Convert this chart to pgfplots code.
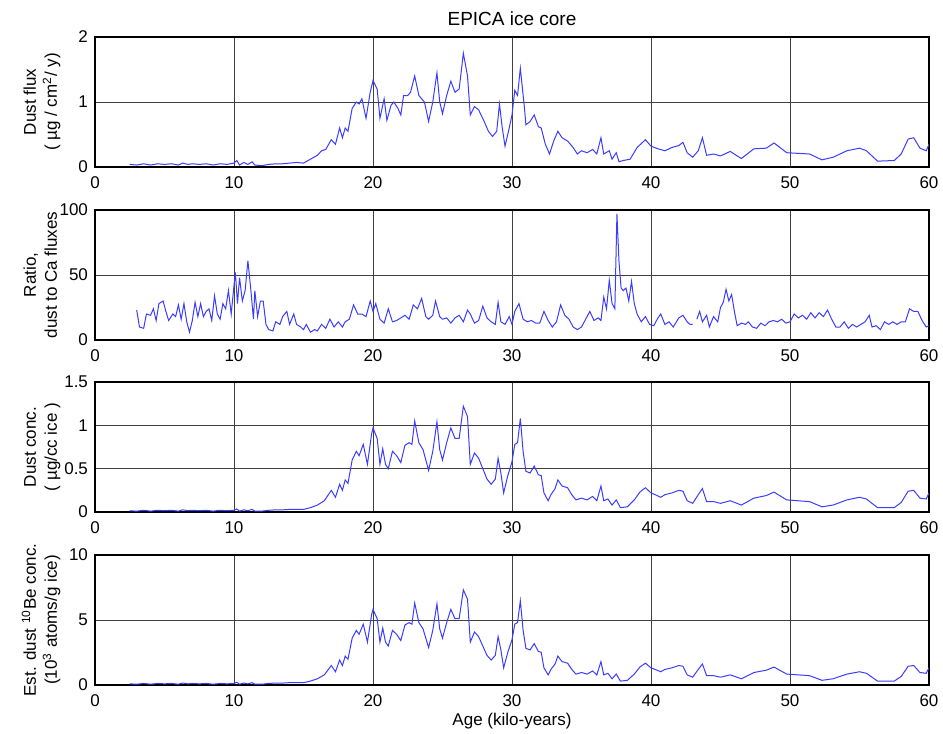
\documentclass[border=0pt]{standalone}
\usepackage{fontspec}
\setmainfont{Liberation Sans}
\usepackage{pgfplots}
\pgfplotsset{compat=1.18}

\definecolor{trace}{RGB}{60,60,255}

\pgfplotsset{
  panel/.style={
    scale only axis,
    width=417pt, height=65pt,
    anchor=north west,
    xmin=0, xmax=60,
    xtick={0,10,...,60},
    grid=major,
    major grid style={black!75, line width=0.45pt},
    axis line style={line width=0.9pt},
    tick style={draw=none},
    font=\fontsize{8.5}{10}\selectfont,
    /pgf/number format/assume math mode=true,
    xticklabel style={yshift=-1.5pt},
    ylabel style={at={(axis description cs:-0.033,0.5)}, anchor=south, align=center,
      font=\fontsize{8.5}{10.5}\selectfont},
    unbounded coords=jump,
  },
  trc/.style={trace, line width=0.5pt, no marks},
}

\begin{document}
\begin{tikzpicture}
\path[use as bounding box] (-47.5pt,18.5pt) rectangle (424pt,-348.5pt);

% panel 1: dust flux
\begin{axis}[panel, at={(0,0)}, ymin=0, ymax=2, ytick={0,1,2},
  title={EPICA ice core}, title style={yshift=-4pt, font=\fontsize{9.5}{11}\selectfont},
  ylabel={Dust flux\\( µg / cm\textsuperscript{2}/ y)}]
\addplot[trc] coordinates {
(2.5,0.04) (3,0.03) (3.5,0.05) (4,0.03) (4.5,0.05) (5,0.04) (5.5,0.05) (6,0.03)
(6.3,0.06) (6.7,0.04) (7,0.05) (7.5,0.04) (8,0.05) (8.5,0.03) (9,0.05) (9.5,0.04)
(10,0.06) (10.2,0.1) (10.4,0.03) (10.7,0.07) (11,0.04) (11.3,0.08) (11.5,0.03) (12,0.02)
(12.5,0.04) (13,0.05) (13.5,0.05) (14,0.06) (14.5,0.07) (15,0.06) (15.5,0.12) (16,0.18)
(16.3,0.25) (16.6,0.27) (17.0,0.42) (17.3,0.35) (17.6,0.6) (17.8,0.45) (18.0,0.6) (18.2,0.55)
(18.5,0.9) (18.8,1.0) (19.0,0.97) (19.2,1.05) (19.5,0.75) (19.8,1.15) (20.0,1.33) (20.3,1.2)
(20.5,0.75) (20.8,1.05) (21.0,0.72) (21.3,0.95) (21.5,1.0) (21.8,0.9) (22.0,0.8) (22.2,1.1)
(22.5,1.1) (22.7,1.15) (23.0,1.4) (23.3,1.1) (23.7,1.0) (24.0,0.7) (24.3,1.0) (24.6,1.45)
(24.8,1.0) (25.0,0.82) (25.3,1.1) (25.6,1.32) (25.9,1.15) (26.2,1.2) (26.5,1.75) (26.8,1.4)
(27.0,0.8) (27.3,0.93) (27.6,0.88) (28.0,0.7) (28.3,0.55) (28.6,0.47) (28.9,0.55) (29.1,0.97)
(29.3,0.6) (29.5,0.32) (29.8,0.6) (30.0,0.8) (30.2,1.18) (30.4,1.1) (30.6,1.52) (30.9,0.9)
(31.0,0.65) (31.3,0.7) (31.6,0.8) (31.9,0.62) (32.1,0.6) (32.4,0.35) (32.7,0.2) (33.0,0.4)
(33.3,0.55) (33.6,0.45) (34.0,0.4) (34.4,0.3) (34.7,0.2) (35.0,0.25) (35.4,0.22) (35.8,0.27)
(36.1,0.2) (36.4,0.45) (36.6,0.2) (37.0,0.25) (37.2,0.12) (37.5,0.22) (37.7,0.08) (38.0,0.1)
(38.5,0.12) (39.0,0.3) (39.6,0.42) (40.0,0.32) (40.5,0.28) (41.0,0.25) (41.5,0.3) (42.0,0.33)
(42.3,0.38) (42.6,0.22) (43.0,0.15) (43.4,0.25) (43.7,0.45) (44.0,0.18) (44.5,0.2) (45.0,0.17)
(45.7,0.24) (46.5,0.13) (47.4,0.28) (48.3,0.29) (48.85,0.37) (49.76,0.22) (51.4,0.2) (52.3,0.11)
(53.1,0.15) (54.1,0.25) (55.0,0.29) (55.5,0.25) (56.3,0.09) (57.5,0.1) (58.0,0.2) (58.5,0.43)
(58.9,0.45) (59.35,0.29) (59.8,0.25) (60,0.35)
};
\end{axis}

% panel 2: ratio
\begin{axis}[panel, at={(0,-86.5pt)}, ymin=0, ymax=100, ytick={0,50,100},
  ylabel style={at={(axis description cs:-0.037,0.5)}},
  ylabel={Ratio,\\dust to Ca fluxes}]
\addplot[trc] coordinates {
(3.0,23) (3.2,10) (3.5,9) (3.7,20) (4.0,19) (4.2,24) (4.4,15) (4.6,28) (4.9,30) (5.1,22)
(5.3,15) (5.6,20) (5.8,18) (6.0,27) (6.2,16) (6.4,28) (6.6,14) (6.8,6) (7.0,15) (7.2,29)
(7.4,18) (7.6,28) (7.8,18) (8.0,22) (8.2,24) (8.4,15) (8.6,34) (8.8,20) (9.0,16) (9.2,28)
(9.4,24) (9.6,38) (9.8,20) (10.0,42) (10.1,52) (10.25,28) (10.4,48) (10.6,30) (10.8,38) (11.0,61)
(11.2,40) (11.4,16) (11.5,38) (11.7,18) (11.9,30) (12.1,30) (12.3,12) (12.5,8) (12.8,7) (13.0,14)
(13.3,12) (13.5,18) (13.8,22) (14.0,12) (14.3,20) (14.5,12) (14.8,10) (15.0,8) (15.2,12) (15.5,6)
(15.8,8) (16.0,7) (16.3,12) (16.6,9) (16.9,16) (17.2,10) (17.5,14) (17.8,10) (18.0,14) (18.3,16)
(18.6,27) (18.9,20) (19.2,20) (19.5,18) (19.8,30) (20.0,22) (20.2,28) (20.5,16) (20.8,13) (21.1,24)
(21.4,14) (21.7,15) (22.0,17) (22.3,19) (22.6,16) (22.9,27) (23.2,24) (23.5,32) (23.8,18) (24.0,16)
(24.3,19) (24.5,30) (24.8,18) (25.0,16) (25.3,17) (25.6,13) (25.9,17) (26.2,19) (26.5,14) (26.8,23)
(27.0,20) (27.3,13) (27.6,15) (27.9,26) (28.2,17) (28.5,14) (28.8,12) (29.0,29) (29.2,14) (29.5,12)
(29.8,18) (30.0,12) (30.2,22) (30.5,28) (30.8,16) (31.1,14) (31.4,15) (31.7,13) (32.0,13) (32.3,22)
(32.6,15) (32.9,10) (33.2,14) (33.5,27) (33.8,19) (34.1,16) (34.4,10) (34.7,8) (35.0,10) (35.3,16)
(35.6,22) (35.9,15) (36.2,17) (36.4,15) (36.6,33) (36.8,24) (37.0,46) (37.2,28) (37.4,24) (37.55,97)
(37.7,60) (37.85,40) (38.0,38) (38.2,40) (38.4,30) (38.6,45) (38.8,28) (39.0,20) (39.3,14) (39.6,18)
(39.9,12) (40.2,11) (40.5,17) (40.7,20) (41.0,12) (41.3,14) (41.6,10) (42.0,17) (42.3,19) (42.6,14)
(42.8,12) (43.0,12) (43.15,nan) (43.3,16) (43.5,22) (43.7,14) (44.0,19) (44.2,10) (44.5,18) (44.8,14)
(45.0,25) (45.2,29) (45.4,39) (45.6,30) (45.8,35) (46.0,22) (46.2,11) (46.5,13) (46.8,12) (47.0,14)
(47.3,10) (47.6,9) (47.9,13) (48.2,11) (48.5,14) (48.8,15) (49.1,14) (49.4,16) (49.7,13) (50.0,14)
(50.3,20) (50.6,17) (50.9,19) (51.2,16) (51.5,21) (51.8,17) (52.1,21) (52.4,18) (52.7,23) (53.0,16)
(53.3,10) (53.6,10) (53.9,14) (54.2,9) (54.5,12) (54.8,10) (55.1,12) (55.4,14) (55.7,19) (55.9,10)
(56.2,11) (56.5,8) (56.8,14) (57.1,12) (57.4,14) (57.7,12) (58.0,14) (58.3,14) (58.6,24) (58.9,22)
(59.2,22) (59.5,15) (59.8,10) (60,11)
};
\end{axis}

% panel 3: dust concentration
\begin{axis}[panel, at={(0,-172.5pt)}, ymin=0, ymax=1.5, ytick={0,0.5,1,1.5},
  ylabel={Dust conc.\\( µg/cc ice )}]
\addplot[trc] coordinates {
(2.5,0.015) (3,0.01) (3.5,0.02) (4,0.01) (4.5,0.02) (5,0.015) (5.5,0.02) (6,0.01)
(6.3,0.025) (6.7,0.015) (7,0.02) (7.5,0.015) (8,0.02) (8.5,0.01) (9,0.02) (9.5,0.015)
(10,0.02) (10.2,0.035) (10.4,0.01) (10.7,0.025) (11,0.015) (11.3,0.03) (11.5,0.01) (12,0.01)
(12.5,0.02) (13,0.025) (13.5,0.025) (14,0.03) (14.5,0.03) (15,0.03) (15.5,0.05) (16,0.08)
(16.5,0.13) (17.0,0.25) (17.3,0.17) (17.6,0.32) (17.8,0.25) (18.0,0.37) (18.2,0.33) (18.5,0.6)
(18.8,0.7) (19.0,0.65) (19.3,0.78) (19.6,0.55) (19.9,0.9) (20.0,0.97) (20.3,0.85) (20.5,0.55)
(20.7,0.73) (20.9,0.55) (21.1,0.5) (21.4,0.7) (21.7,0.65) (22.0,0.57) (22.3,0.77) (22.6,0.8)
(22.8,0.78) (23.0,1.05) (23.3,0.8) (23.6,0.72) (24.0,0.48) (24.3,0.7) (24.6,1.04) (24.8,0.72)
(25.0,0.6) (25.3,0.8) (25.6,0.97) (25.9,0.85) (26.2,0.85) (26.5,1.22) (26.8,1.1) (27.0,0.55)
(27.3,0.68) (27.6,0.62) (27.9,0.5) (28.2,0.38) (28.5,0.32) (28.8,0.38) (29.0,0.62) (29.2,0.45)
(29.4,0.22) (29.7,0.42) (30.0,0.58) (30.2,0.78) (30.4,0.8) (30.6,1.08) (30.8,0.7) (31.0,0.47)
(31.3,0.45) (31.6,0.53) (31.9,0.43) (32.1,0.42) (32.3,0.22) (32.6,0.13) (32.8,0.2) (33.1,0.27)
(33.3,0.37) (33.6,0.3) (34.0,0.28) (34.3,0.2) (34.6,0.14) (35.0,0.16) (35.4,0.14) (35.8,0.18)
(36.1,0.13) (36.4,0.3) (36.6,0.13) (36.9,0.15) (37.2,0.08) (37.5,0.14) (37.8,0.05) (38.3,0.06)
(38.8,0.14) (39.2,0.23) (39.6,0.28) (40.0,0.22) (40.3,0.2) (40.7,0.17) (41.0,0.2) (41.5,0.22)
(42.0,0.25) (42.3,0.24) (42.6,0.13) (43.0,0.1) (43.4,0.2) (43.7,0.27) (44.0,0.12) (44.5,0.12)
(45.0,0.1) (45.7,0.13) (46.5,0.08) (47.4,0.16) (48.3,0.19) (48.85,0.23) (49.76,0.14) (51.4,0.12)
(52.3,0.06) (53.1,0.08) (54.1,0.14) (55.0,0.17) (55.5,0.15) (56.3,0.05) (57.5,0.05) (58.0,0.11)
(58.5,0.24) (58.9,0.25) (59.35,0.16) (59.8,0.15) (60,0.22)
};
\end{axis}

% panel 4: estimated dust 10Be concentration
\begin{axis}[panel, at={(0,-259pt)}, ymin=0, ymax=10, ytick={0,5,10},
  xlabel={Age (kilo-years)}, xlabel style={yshift=4pt},
  ylabel={Est. dust \textsuperscript{10}Be conc.\\(10\textsuperscript{3} atoms/g ice)}]
\addplot[trc] coordinates {
(2.5,0.09) (3,0.06) (3.5,0.12) (4,0.06) (4.5,0.12) (5,0.09) (5.5,0.12) (6,0.06)
(6.3,0.15) (6.7,0.09) (7,0.12) (7.5,0.09) (8,0.12) (8.5,0.06) (9,0.12) (9.5,0.09)
(10,0.12) (10.2,0.21) (10.4,0.06) (10.7,0.15) (11,0.09) (11.3,0.18) (11.5,0.06) (12,0.06)
(12.5,0.12) (13,0.15) (13.5,0.15) (14,0.18) (14.5,0.18) (15,0.18) (15.5,0.3) (16,0.48)
(16.5,0.78) (17.0,1.5) (17.3,1.02) (17.6,1.92) (17.8,1.5) (18.0,2.22) (18.2,1.98) (18.5,3.6)
(18.8,4.2) (19.0,3.9) (19.3,4.68) (19.6,3.3) (19.9,5.4) (20.0,5.82) (20.3,5.1) (20.5,3.3)
(20.7,4.38) (20.9,3.3) (21.1,3.0) (21.4,4.2) (21.7,3.9) (22.0,3.42) (22.3,4.62) (22.6,4.8)
(22.8,4.68) (23.0,6.3) (23.3,4.8) (23.6,4.32) (24.0,2.88) (24.3,4.2) (24.6,6.24) (24.8,4.32)
(25.0,3.6) (25.3,4.8) (25.6,5.82) (25.9,5.1) (26.2,5.1) (26.5,7.32) (26.8,6.6) (27.0,3.3)
(27.3,4.08) (27.6,3.72) (27.9,3.0) (28.2,2.28) (28.5,1.92) (28.8,2.28) (29.0,3.72) (29.2,2.7)
(29.4,1.32) (29.7,2.52) (30.0,3.48) (30.2,4.68) (30.4,4.8) (30.6,6.48) (30.8,4.2) (31.0,2.82)
(31.3,2.7) (31.6,3.18) (31.9,2.58) (32.1,2.52) (32.3,1.32) (32.6,0.78) (32.8,1.2) (33.1,1.62)
(33.3,2.22) (33.6,1.8) (34.0,1.68) (34.3,1.2) (34.6,0.84) (35.0,0.96) (35.4,0.84) (35.8,1.08)
(36.1,0.78) (36.4,1.8) (36.6,0.78) (36.9,0.9) (37.2,0.48) (37.5,0.84) (37.8,0.3) (38.3,0.36)
(38.8,0.84) (39.2,1.38) (39.6,1.68) (40.0,1.32) (40.3,1.2) (40.7,1.02) (41.0,1.2) (41.5,1.32)
(42.0,1.5) (42.3,1.44) (42.6,0.78) (43.0,0.6) (43.4,1.2) (43.7,1.62) (44.0,0.72) (44.5,0.72)
(45.0,0.6) (45.7,0.78) (46.5,0.48) (47.4,0.96) (48.3,1.14) (48.85,1.38) (49.76,0.84) (51.4,0.72)
(52.3,0.36) (53.1,0.48) (54.1,0.84) (55.0,1.02) (55.5,0.9) (56.3,0.3) (57.5,0.3) (58.0,0.66)
(58.5,1.44) (58.9,1.5) (59.35,0.96) (59.8,0.9) (60,1.32)
};
\end{axis}
\end{tikzpicture}
\end{document}
